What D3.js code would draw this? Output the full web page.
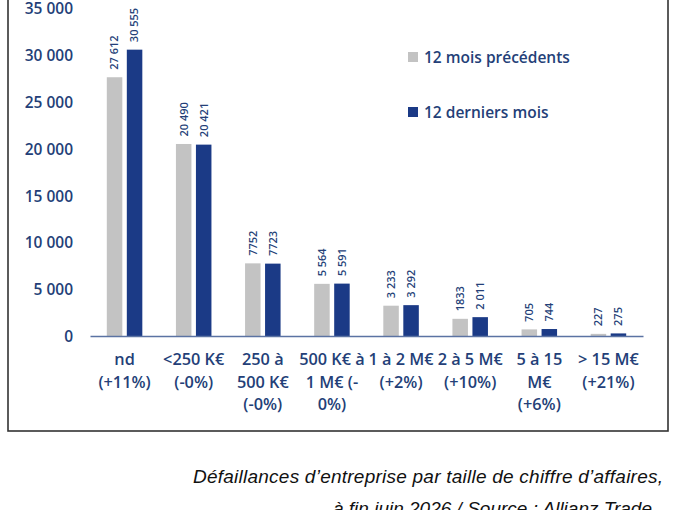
<!DOCTYPE html>
<html><head><meta charset="utf-8">
<script src="https://cdn.jsdelivr.net/npm/d3@7/dist/d3.min.js"></script>
<style>html,body{margin:0;padding:0;background:#fff;overflow:hidden}</style>
</head><body>
<svg id="c" width="680" height="510"></svg>
<script>
const categories = ["nd", "<250 K€", "250 à 500 K€", "500 K€ à 1 M€", "1 à 2 M€", "2 à 5 M€", "5 à 15 M€", "> 15 M€"];
const categoryLines = [
  ["nd", "(+11%)"],
  ["<250 K€", "(-0%)"],
  ["250 à", "500 K€", "(-0%)"],
  ["500 K€ à", "1 M€ (-", "0%)"],
  ["1 à 2 M€", "(+2%)"],
  ["2 à 5 M€", "(+10%)"],
  ["5 à 15", "M€", "(+6%)"],
  ["> 15 M€", "(+21%)"]
];
const seriesNames = ["12 mois précédents", "12 derniers mois"];
const previous12 = [27612, 20490, 7752, 5564, 3233, 1833, 705, 227];
const last12 = [30555, 20421, 7723, 5591, 3292, 2011, 744, 275];
const previousLabels = ["27 612", "20 490", "7752", "5 564", "3 233", "1833", "705", "227"];
const lastLabels = ["30 555", "20 421", "7723", "5 591", "3 292", "2 011", "744", "275"];
const yTicks = [0, 5000, 10000, 15000, 20000, 25000, 30000, 35000];
const captionLines = ["Défaillances d’entreprise par taille de chiffre d’affaires,", "à fin juin 2026 / Source : Allianz Trade"];

const colors = ["#c3c3c3", "#1b3a86"];
const textColor = "#243f78";
const svg = d3.select("#c");

// frame
svg.append("rect").attr("x", 8).attr("y", -10).attr("width", 660).attr("height", 441)
  .attr("fill", "none").attr("stroke", "#333").attr("stroke-width", 1.6);

const x = d3.scaleBand().domain(categories).range([90, 643]).padding(0);
const xs = d3.scaleBand().domain(seriesNames).range([0, x.bandwidth()]).paddingInner(0.225).paddingOuter(0.84);
const y = d3.scaleLinear().domain([0, 35000]).range([336, 8]);

const fmt = v => d3.format(",")(v).replace(/,/g, " ");

// y axis
const yAxis = d3.axisLeft(y).tickValues(yTicks).tickFormat(fmt).tickSize(0).tickPadding(0);
const ya = svg.append("g").attr("transform", "translate(73,0)").call(yAxis);
ya.select(".domain").remove();
ya.selectAll("text").attr("font-family", "Open Sans").attr("font-size", 15.5).attr("font-weight", 600)
  .attr("fill", textColor).attr("dy", "0.36em");

const data = categories.map((c, i) => ({c, vals: [previous12[i], last12[i]], labs: [previousLabels[i], lastLabels[i]]}));

const g = svg.append("g");
data.forEach((d, i) => {
  seriesNames.forEach((s, j) => {
    const bx = x(d.c) + xs(s);
    g.append("rect").attr("x", bx).attr("y", y(d.vals[j]))
      .attr("width", xs.bandwidth()).attr("height", y(0) - y(d.vals[j]))
      .attr("fill", colors[j]);
    const cx = bx + xs.bandwidth() / 2;
    const ty = y(d.vals[j]) - 7.5;
    g.append("text").attr("transform", `translate(${cx},${ty}) rotate(-90)`)
      .attr("text-anchor", "start").attr("dy", "0.35em")
      .attr("font-family", "Open Sans").attr("font-size", 11).attr("font-weight", 600)
      .attr("fill", textColor).text(d.labs[j]);
  });
});

// x axis
const xAxis = d3.axisBottom(x).tickSize(0).tickFormat("");
const xa = svg.append("g").attr("transform", "translate(0,336)").call(xAxis);
xa.select(".domain").attr("stroke", "#5b73a3").attr("stroke-width", 1.5);

categoryLines.forEach((lines, i) => {
  const cx = x(categories[i]) + x.bandwidth() / 2;
  const t = svg.append("text").attr("x", cx).attr("y", 365)
    .attr("text-anchor", "middle").attr("font-family", "Open Sans").attr("font-size", 16.3)
    .attr("font-weight", 600).attr("fill", textColor);
  lines.forEach((l, k) => t.append("tspan").attr("x", cx)
    .attr("dy", k === 0 ? 0 : 22.5).text(l));
});

// legend
seriesNames.forEach((s, j) => {
  const ly = 57 + j * 55;
  svg.append("rect").attr("x", 408).attr("y", ly - 5).attr("width", 10).attr("height", 10).attr("fill", colors[j]);
  svg.append("text").attr("x", 424).attr("y", ly).attr("dy", "0.36em")
    .attr("font-family", "Open Sans").attr("font-size", 15.5).attr("font-weight", 600)
    .attr("fill", textColor).text(s);
});

// caption
svg.append("text").attr("x", 193).attr("y", 483)
  .attr("font-family", "Liberation Sans").attr("font-style", "italic").attr("font-size", 19)
  .attr("textLength", 470).attr("lengthAdjust", "spacing")
  .attr("fill", "#111").text(captionLines[0]);
svg.append("text").attr("x", 333).attr("y", 515)
  .attr("font-family", "Liberation Sans").attr("font-style", "italic").attr("font-size", 19)
  .attr("fill", "#111").text(captionLines[1]);
</script>
</body></html>
